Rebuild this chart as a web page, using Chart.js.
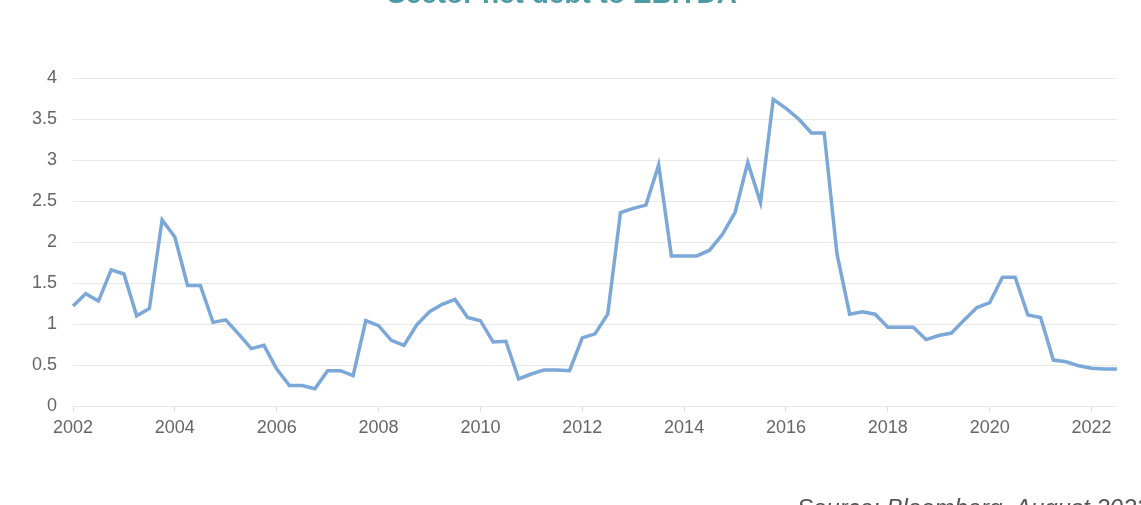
<!DOCTYPE html>
<html>
<head>
<meta charset="utf-8">
<script src="https://cdn.jsdelivr.net/npm/chart.js@4"></script>
<style>
  html, body { margin: 0; padding: 0; background: #ffffff; overflow: hidden; }
  #wrap { position: relative; width: 1141px; height: 505px; }
  #title { position: absolute; left: 0; width: 1124px; top: -20px; text-align: center;
    font-family: "Liberation Sans", Arial, sans-serif; font-weight: bold; font-size: 28px;
    line-height: 28px; color: #4d9aa7; white-space: nowrap; }
  #source { position: absolute; left: 797px; top: 496px; font-family: "Liberation Sans", Arial, sans-serif;
    font-style: italic; font-size: 24px; line-height: 24px; color: #555555; white-space: nowrap; }
  canvas { position: absolute; left: 0; top: 0; }
</style>
</head>
<body>
<div id="wrap">
  <canvas id="c" width="1141" height="505"></canvas>
  <div id="title">Sector net debt to EBITDA</div>
  <div id="source">Source: Bloomberg, August 2022</div>
</div>
<script>
// Quarterly observations, 2002 Q1 .. 2022 Q3
const quarterLabels = [];
for (let y = 2002; y <= 2022; y++) {
  for (let q = 1; q <= 4; q++) {
    if (y === 2022 && q > 3) break;
    quarterLabels.push(y + ' Q' + q);
  }
}
const netDebtToEbitda = [
  1.22, 1.37, 1.28, 1.66, 1.61, 1.10, 1.19, 2.27, 2.06, 1.47,
  1.47, 1.02, 1.05, 0.88, 0.70, 0.74, 0.45, 0.25, 0.25, 0.21,
  0.43, 0.43, 0.37, 1.04, 0.98, 0.80, 0.74, 0.99, 1.15, 1.24,
  1.30, 1.08, 1.04, 0.78, 0.79, 0.33, 0.39, 0.44, 0.44, 0.43,
  0.83, 0.88, 1.12, 2.36, 2.41, 2.45, 2.94, 1.83, 1.83, 1.83,
  1.90, 2.09, 2.36, 2.97, 2.48, 3.74, 3.63, 3.50, 3.33, 3.33,
  1.86, 1.12, 1.15, 1.12, 0.96, 0.96, 0.96, 0.81, 0.86, 0.89,
  1.05, 1.20, 1.26, 1.57, 1.57, 1.11, 1.08, 0.56, 0.54, 0.49,
  0.46, 0.45, 0.45
];
const yTickValues = [0, 0.5, 1, 1.5, 2, 2.5, 3, 3.5, 4];
const xTickYears = [2002, 2004, 2006, 2008, 2010, 2012, 2014, 2016, 2018, 2020, 2022];

const tickFont = { family: '"Liberation Sans", Arial, sans-serif', size: 18 };

new Chart(document.getElementById('c'), {
  type: 'line',
  data: {
    labels: quarterLabels,
    datasets: [{
      label: 'Sector net debt to EBITDA',
      data: netDebtToEbitda,
      borderColor: '#7ba7d9',
      borderWidth: 3.5,
      pointRadius: 0,
      tension: 0,
      fill: false
    }]
  },
  options: {
    responsive: false,
    animation: false,
    layout: { padding: { left: 0, top: 78, right: 24, bottom: 59 } },
    plugins: { legend: { display: false }, tooltip: { enabled: false }, title: { display: false } },
    scales: {
      x: {
        type: 'category',
        offset: false,
        afterFit: s => { s.height = 40; },
        border: { display: false },
        grid: {
          drawOnChartArea: false,
          drawTicks: true,
          tickLength: 6,
          color: '#dddddd'
        },
        ticks: {
          autoSkip: false,
          maxRotation: 0,
          padding: 5,
          color: '#666666',
          font: tickFont,
          callback: function (val, idx) {
            const lab = quarterLabels[idx];
            const yr = parseInt(lab, 10);
            return (lab.endsWith('Q1') && xTickYears.includes(yr)) ? String(yr) : null;
          }
        }
      },
      y: {
        min: 0,
        max: 4,
        afterFit: s => { s.width = 73; },
        afterBuildTicks: s => { s.ticks = yTickValues.map(v => ({ value: v })); },
        border: { display: false },
        grid: { color: '#e8e8e8', drawTicks: false, lineWidth: 1 },
        ticks: {
          padding: 16,
          color: '#666666',
          font: tickFont,
          callback: v => String(v)
        }
      }
    }
  }
});
</script>
</body>
</html>
